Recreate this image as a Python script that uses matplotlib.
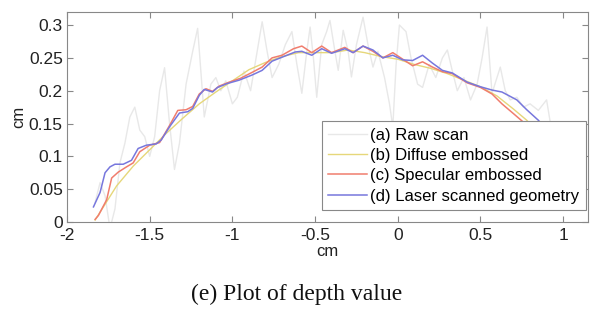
import matplotlib
matplotlib.use('Agg')
import matplotlib.pyplot as plt
import numpy as np

# (a) raw scan
raw_x = [-1.83, -1.80, -1.77, -1.74, -1.71, -1.68, -1.65, -1.62, -1.59, -1.56, -1.53, -1.50,
         -1.47, -1.44, -1.41, -1.38, -1.35, -1.32, -1.28, -1.24, -1.21, -1.17, -1.13, -1.10,
         -1.07, -1.04, -1.00, -0.97, -0.93, -0.89, -0.85, -0.82, -0.79, -0.76, -0.72, -0.68,
         -0.64, -0.61, -0.58, -0.55, -0.53, -0.51, -0.49, -0.46, -0.43, -0.41, -0.38, -0.36,
         -0.33, -0.30, -0.28, -0.25, -0.21, -0.18, -0.15, -0.12, -0.08, -0.05, -0.03, -0.01,
         0.01, 0.05, 0.08, 0.12, 0.15, 0.19, 0.23, 0.27, 0.30, 0.33, 0.36, 0.40, 0.44, 0.48,
         0.51, 0.54, 0.57, 0.60, 0.62, 0.65, 0.68, 0.72, 0.76, 0.80, 0.85, 0.90, 0.92, 0.95, 1.00]
raw_y = [0.03, 0.06, 0.04, -0.01, 0.02, 0.09, 0.12, 0.16, 0.175, 0.14, 0.13, 0.10,
         0.13, 0.20, 0.235, 0.15, 0.08, 0.12, 0.21, 0.26, 0.295, 0.16, 0.21, 0.22,
         0.20, 0.215, 0.18, 0.19, 0.23, 0.20, 0.26, 0.305, 0.26, 0.22, 0.24, 0.27,
         0.29, 0.24, 0.196, 0.26, 0.297, 0.25, 0.19, 0.27, 0.29, 0.307, 0.26, 0.231,
         0.292, 0.26, 0.221, 0.27, 0.312, 0.27, 0.236, 0.26, 0.22, 0.18, 0.145, 0.24,
         0.30, 0.29, 0.25, 0.21, 0.205, 0.24, 0.22, 0.25, 0.262, 0.23, 0.20, 0.22, 0.186, 0.21,
         0.25, 0.297, 0.196, 0.22, 0.236, 0.20, 0.186, 0.19, 0.175, 0.18, 0.17, 0.186, 0.155, 0.12, 0.10]

# (b) diffuse embossed
dif_x = [-1.83, -1.75, -1.70, -1.60, -1.50, -1.40, -1.30, -1.20, -1.10, -1.00, -0.90, -0.80,
         -0.70, -0.60, -0.50, -0.40, -0.30, -0.20, -0.10, 0.00, 0.10, 0.20, 0.30, 0.40,
         0.50, 0.60, 0.70, 0.78, 0.85, 0.92]
dif_y = [0.003, 0.035, 0.055, 0.085, 0.11, 0.135, 0.158, 0.18, 0.198, 0.215, 0.232, 0.243,
         0.252, 0.258, 0.258, 0.258, 0.262, 0.258, 0.252, 0.248, 0.240, 0.234, 0.226, 0.216,
         0.206, 0.192, 0.172, 0.155, 0.135, 0.11]

# (c) specular embossed
spe_x = [-1.83, -1.81, -1.76, -1.73, -1.69, -1.64, -1.60, -1.56, -1.50, -1.44, -1.38, -1.33,
         -1.28, -1.24, -1.20, -1.16, -1.12, -1.08, -1.02, -0.95, -0.88, -0.82, -0.76, -0.70,
         -0.63, -0.58, -0.52, -0.46, -0.40, -0.32, -0.27, -0.21, -0.15, -0.09, -0.03, 0.03,
         0.09, 0.15, 0.21, 0.27, 0.33, 0.42, 0.50, 0.57, 0.63, 0.70, 0.76, 0.82, 0.90]
spe_y = [0.004, 0.01, 0.034, 0.067, 0.076, 0.084, 0.090, 0.107, 0.117, 0.121, 0.147, 0.170,
         0.171, 0.176, 0.195, 0.203, 0.199, 0.207, 0.213, 0.219, 0.228, 0.236, 0.250, 0.254,
         0.264, 0.268, 0.258, 0.268, 0.258, 0.266, 0.258, 0.268, 0.260, 0.250, 0.258, 0.248,
         0.238, 0.244, 0.236, 0.229, 0.226, 0.212, 0.205, 0.195, 0.180, 0.165, 0.152, 0.135, 0.11]

# (d) laser scanned geometry
las_x = [-1.84, -1.80, -1.77, -1.74, -1.71, -1.66, -1.61, -1.57, -1.52, -1.46, -1.43, -1.38,
         -1.32, -1.27, -1.24, -1.20, -1.17, -1.12, -1.09, -1.03, -0.96, -0.88, -0.82, -0.76,
         -0.70, -0.62, -0.58, -0.52, -0.46, -0.40, -0.32, -0.27, -0.21, -0.15, -0.09, -0.03,
         0.03, 0.09, 0.15, 0.21, 0.27, 0.33, 0.42, 0.50, 0.57, 0.63, 0.72, 0.78, 0.85, 0.92, 1.00]
las_y = [0.023, 0.045, 0.075, 0.084, 0.088, 0.088, 0.094, 0.112, 0.117, 0.119, 0.125, 0.145,
         0.166, 0.168, 0.173, 0.193, 0.202, 0.198, 0.205, 0.211, 0.216, 0.224, 0.231, 0.245,
         0.251, 0.259, 0.260, 0.254, 0.264, 0.257, 0.264, 0.258, 0.268, 0.262, 0.250, 0.254,
         0.247, 0.246, 0.254, 0.242, 0.231, 0.227, 0.213, 0.206, 0.201, 0.198, 0.186, 0.171, 0.155, 0.135, 0.11]

plt.rcParams['font.family'] = 'Liberation Sans'

fig = plt.figure(figsize=(5.94, 3.14), dpi=100)
ax = fig.add_axes([0.1128, 0.293, 0.877, 0.669])

ax.plot(raw_x, raw_y, color='#e8e8e8', lw=1.0, label='(a) Raw scan')
ax.plot(dif_x, dif_y, color='#e6d77a', lw=1.0, label='(b) Diffuse embossed')
ax.plot(spe_x, spe_y, color='#f07d6e', lw=1.1, label='(c) Specular embossed')
ax.plot(las_x, las_y, color='#7777dd', lw=1.1, label='(d) Laser scanned geometry')

ax.set_xlim(-2, 1.15)
ax.set_ylim(0, 0.32)
ax.set_xticks([-2, -1.5, -1, -0.5, 0, 0.5, 1])
ax.set_xticklabels(['-2', '-1.5', '-1', '-0.5', '0', '0.5', '1'])
ax.set_yticks([0, 0.05, 0.1, 0.15, 0.2, 0.25, 0.3])
ax.set_yticklabels(['0', '0.05', '0.1', '0.15', '0.2', '0.25', '0.3'])
ax.tick_params(direction='in', top=True, right=True, length=4, width=0.8, pad=3,
               colors='#888888', labelcolor='#222222', labelsize=12.5)
ax.tick_params(axis='x', pad=4)
for s in ax.spines.values():
  s.set_color('#888888')
  s.set_linewidth(0.8)

ax.set_xlabel('cm', fontsize=12, color='#222222', labelpad=1)
ax.set_ylabel('cm', fontsize=12, color='#222222', labelpad=2)

leg = ax.legend(loc='upper left', bbox_to_anchor=(0.489, 0.481), fontsize=12,
                fancybox=False, framealpha=1, edgecolor='#888888', borderaxespad=0,
                handlelength=2.3, handletextpad=0.2, labelspacing=0.32, borderpad=0.4)
leg.get_frame().set_linewidth(0.8)
leg.set_zorder(10)

fig.text(0.5, 0.062, '(e) Plot of depth value', ha='center', va='center',
         family='Liberation Serif', fontsize=17, color='#111111')

fig.savefig('out.png', dpi=100)
